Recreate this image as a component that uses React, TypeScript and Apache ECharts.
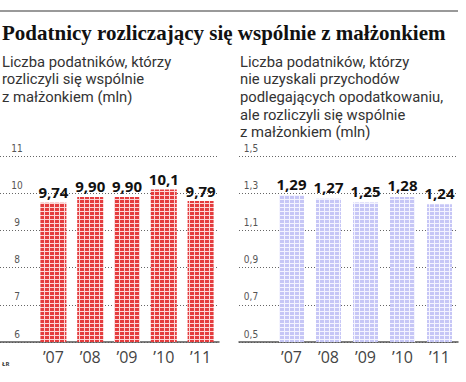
import React, { useEffect, useRef } from "react";
import * as echarts from "echarts";

const years = ["’07", "’08", "’09", "’10", "’11"];
const jointFilers = [9.74, 9.9, 9.9, 10.1, 9.79];
const jointFilersLabels = ["9,74", "9,90", "9,90", "10,1", "9,79"];
const noIncomeFilers = [1.29, 1.27, 1.25, 1.28, 1.24];
const noIncomeLabels = ["1,29", "1,27", "1,25", "1,28", "1,24"];

const titleText = "Podatnicy rozliczający się wspólnie z małżonkiem";
const leftSubtitle = ["Liczba podatników, którzy", "rozliczyli się wspólnie", "z małżonkiem (mln)"];
const rightSubtitle = [
  "Liczba podatników, którzy",
  "nie uzyskali przychodów",
  "podlegających opodatkowaniu,",
  "ale rozliczyli się wspólnie",
  "z małżonkiem (mln)",
];

function makePattern(base: string, line: string) {
  const c = document.createElement("canvas");
  c.width = 5;
  c.height = 4;
  const ctx = c.getContext("2d")!;
  ctx.fillStyle = line;
  ctx.fillRect(0, 0, 5, 4);
  ctx.fillStyle = base;
  ctx.fillRect(0, 0, 4, 3);
  return c;
}

export default function App() {
  const ref = useRef<HTMLDivElement>(null);
  useEffect(() => {
    if (!ref.current) return;
    document.body.style.margin = "0";
    const chart = echarts.init(ref.current, undefined, { renderer: "svg" });
    const redPat = makePattern("#e43c3e", "#fbd6d6");
    const bluePat = makePattern("#c6c6f6", "#f4f4ff");

    const gridTop = 156;
    const gridH = 186;
    const sans = "'Open Sans', sans-serif";
    const subFont = "Roboto, sans-serif";

    const subStyle = (t: string[]) => ({
      text: t.join("\n"),
      fontFamily: subFont,
      fontSize: 14.8,
      lineHeight: 17.6,
      fill: "#333",
    });

    const dotted = { color: "#666", width: 1, type: [1, 2] as any };

    const yAxisLabel = (align: string, margin: number, fmt?: (v: number) => string) => ({
      inside: true,
      align,
      margin,
      verticalAlign: "bottom",
      padding: [0, 0, 3, 0],
      fontFamily: "'Liberation Sans Narrow', 'DejaVu Sans Condensed', sans-serif",
      fontSize: 10,
      color: "#555",
      formatter: fmt,
    });

    chart.setOption({
      animation: false,
      backgroundColor: "#fff",
      graphic: [
        {
          type: "line",
          shape: { x1: 0, y1: 11, x2: 458, y2: 11 },
          style: { stroke: "#777", lineWidth: 1.5 },
        },
        {
          type: "text",
          left: 2,
          top: 22,
          style: {
            text: titleText,
            fontFamily: "'Liberation Serif', serif",
            fontWeight: "bold",
            fontSize: 21,
            fill: "#111",
          },
        },
        { type: "text", left: 2, top: 53, style: subStyle(leftSubtitle) },
        { type: "text", left: 240, top: 53, style: subStyle(rightSubtitle) },
        {
          type: "text",
          left: 2,
          top: 361,
          style: { text: "ŁR", fontFamily: sans, fontWeight: "bold", fontSize: 6, fill: "#333" },
        },
      ],
      grid: [
        { left: 0, width: 219, top: gridTop, height: gridH },
        { left: 35, width: 184, top: gridTop, height: gridH },
        { left: 239, width: 219, top: gridTop, height: gridH },
        { left: 273, width: 185, top: gridTop, height: gridH },
      ],
      xAxis: [
        {
          gridIndex: 0,
          type: "value",
          min: 0,
          max: 1,
          axisLine: { show: true, lineStyle: { color: "#555", width: 1.5 } },
          axisTick: { show: false },
          axisLabel: { show: false },
          splitLine: { show: false },
        },
        {
          gridIndex: 1,
          type: "category",
          data: years,
          axisLine: { show: false },
          axisTick: { show: false },
          axisLabel: { fontFamily: sans, fontSize: 16, color: "#444", margin: 7 },
        },
        {
          gridIndex: 2,
          type: "value",
          min: 0,
          max: 1,
          axisLine: { show: true, lineStyle: { color: "#555", width: 1.5 } },
          axisTick: { show: false },
          axisLabel: { show: false },
          splitLine: { show: false },
        },
        {
          gridIndex: 3,
          type: "category",
          data: years,
          axisLine: { show: false },
          axisTick: { show: false },
          axisLabel: { fontFamily: sans, fontSize: 16, color: "#444", margin: 7 },
        },
      ],
      yAxis: [
        {
          gridIndex: 0,
          type: "value",
          min: 6,
          max: 11,
          interval: 1,
          axisLine: { show: false },
          axisTick: { show: false },
          axisLabel: yAxisLabel("center", 17),
          splitLine: { show: true, lineStyle: dotted },
        },
        { gridIndex: 1, type: "value", min: 6, max: 11, show: false },
        {
          gridIndex: 2,
          type: "value",
          min: 0.5,
          max: 1.5,
          interval: 0.2,
          axisLine: { show: false },
          axisTick: { show: false },
          axisLabel: yAxisLabel("center", 12, (v: number) =>
            (Math.round(v * 10) / 10).toFixed(1).replace(".", ",")
          ),
          splitLine: { show: true, lineStyle: dotted },
        },
        { gridIndex: 3, type: "value", min: 0.5, max: 1.5, show: false },
      ],
      series: [
        {
          type: "bar",
          xAxisIndex: 1,
          yAxisIndex: 1,
          data: jointFilers,
          barWidth: 26,
          itemStyle: { color: { image: redPat, repeat: "repeat" } as any },
          label: {
            show: true,
            position: "top",
            distance: 3,
            formatter: (p: any) => jointFilersLabels[p.dataIndex],
            fontFamily: sans,
            fontWeight: "bold",
            fontSize: 15,
            color: "#111",
          },
        },
        {
          type: "bar",
          xAxisIndex: 3,
          yAxisIndex: 3,
          data: noIncomeFilers,
          barWidth: 25,
          itemStyle: { color: { image: bluePat, repeat: "repeat" } as any },
          label: {
            show: true,
            position: "top",
            distance: 4,
            formatter: (p: any) => noIncomeLabels[p.dataIndex],
            fontFamily: sans,
            fontWeight: "bold",
            fontSize: 15,
            color: "#111",
          },
        },
      ],
    });
    return () => chart.dispose();
  }, []);
  return <div ref={ref} style={{ width: 466, height: 382 }} />;
}
